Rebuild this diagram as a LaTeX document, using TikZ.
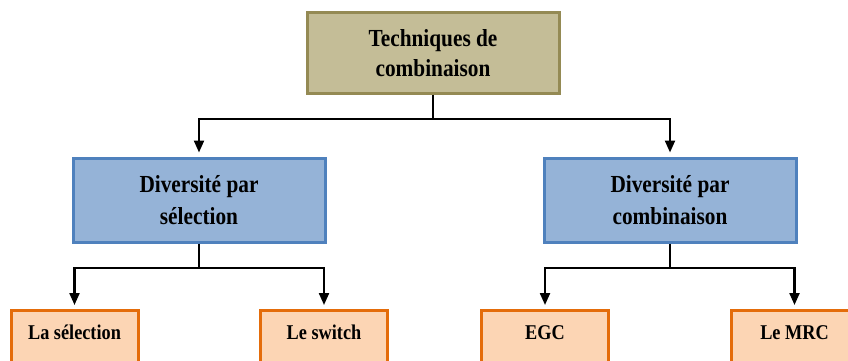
\documentclass[tikz,border=0pt]{standalone}
\usepackage{fontspec}
\setmainfont{Liberation Serif}[FakeStretch=0.87]
\usetikzlibrary{arrows.meta}
\definecolor{tanfill}{HTML}{C4BD97}
\definecolor{tanline}{HTML}{948A54}
\definecolor{bluefill}{HTML}{95B3D7}
\definecolor{blueline}{HTML}{4F81BD}
\definecolor{orangefill}{HTML}{FCD5B4}
\definecolor{orangeline}{HTML}{E46C0A}
\tikzset{
  rootbox/.style={draw=tanline, fill=tanfill, line width=3pt, minimum width=252pt, minimum height=80pt,
    align=center, font=\fontsize{24.5}{30}\selectfont\bfseries},
  groupbox/.style={draw=blueline, fill=bluefill, line width=3pt, minimum width=252pt, minimum height=84pt,
    align=center, font=\fontsize{24.5}{32}\selectfont\bfseries},
  leafbox/.style={draw=orangeline, fill=orangefill, line width=3pt, minimum width=127pt, anchor=north,
    inner ysep=6pt, text height=23pt, text depth=50pt, font=\fontsize{21}{24}\selectfont\bfseries},
  link/.style={draw=black, line width=2.2pt},
  arrowlink/.style={link, -{Triangle[length=12pt,width=10pt]}, shorten >=4pt},
}
\begin{document}
\begin{tikzpicture}[x=1pt, y=-1pt]
  \useasboundingbox (0,0) rectangle (848,361);
  \clip (0,0) rectangle (848,361);
  \fill[white] (0,0) rectangle (848,361);

  % boxes
  \node[rootbox] (root) at (433,53) {Techniques de\\combinaison};
  \node[groupbox] (sel) at (199,200) {Diversité par\\sélection};
  \node[groupbox] (comb) at (670,200) {Diversité par\\combinaison};
  \node[leafbox] (lasel) at (74.5,309) {La sélection};
  \node[leafbox] (switch) at (324,309) {Le switch};
  \node[leafbox] (egc) at (545,309) {EGC};
  \node[leafbox] (mrc) at (794.5,309) {Le MRC};

  % junction points of the tree
  \coordinate (j0) at (433,119);
  \coordinate (j1) at (199,268);
  \coordinate (j2) at (670,268);

  % connectors
  \draw[link] (root.south) -- (j0);
  \draw[arrowlink] (j0) -| (sel.north);
  \draw[arrowlink] (j0) -| (comb.north);

  \draw[link] (sel.south) -- (j1);
  \draw[arrowlink] (j1) -| (lasel.north);
  \draw[arrowlink] (j1) -| (switch.north);

  \draw[link] (comb.south) -- (j2);
  \draw[arrowlink] (j2) -| (egc.north);
  \draw[arrowlink] (j2) -| (mrc.north);
\end{tikzpicture}
\end{document}
